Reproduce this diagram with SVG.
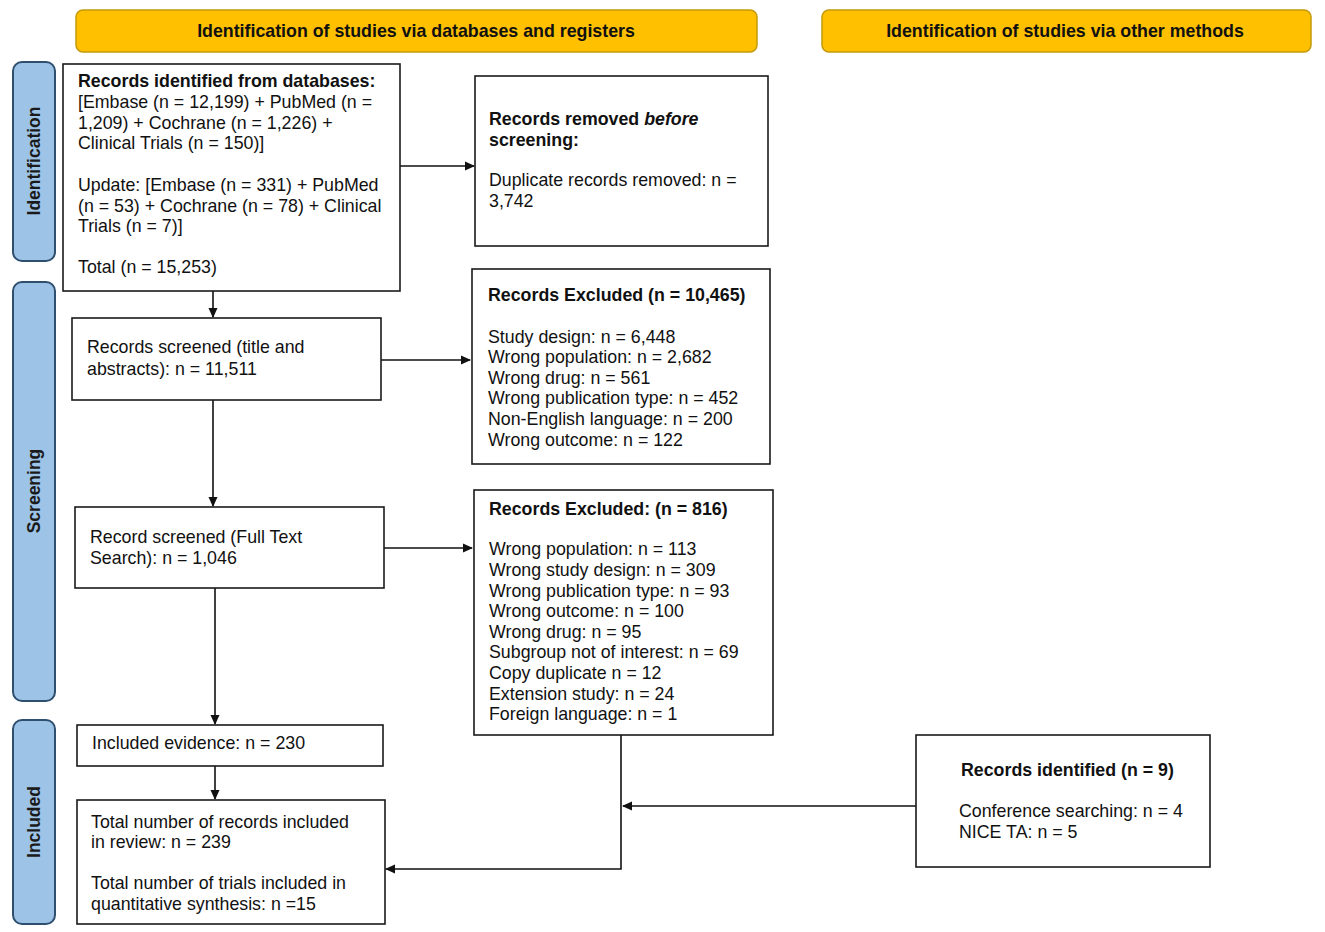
<svg xmlns="http://www.w3.org/2000/svg" width="1325" height="932" viewBox="0 0 1325 932">
<defs>
<style>
text{font-family:"Liberation Sans",Arial,sans-serif;font-size:17.8px;fill:#111}
.b{font-weight:bold}
.hdr{fill:#FFC000;stroke:#C49A0A;stroke-width:1.5}
.side{fill:#9DC3E6;stroke:#2F4F6F;stroke-width:2}
.box{fill:#fff;stroke:#1a1a1a;stroke-width:1.6}
.sl{font-weight:bold;font-size:17.5px;fill:#1a1a1a}
.c{fill:none;stroke:#111;stroke-width:1.6}
</style>
<marker id="ah" markerWidth="10" markerHeight="10" refX="9" refY="5" orient="auto" markerUnits="userSpaceOnUse">
<path d="M0,0.5 L10,5 L0,9.5 Z" fill="#111"/>
</marker>
</defs>
<rect width="1325" height="932" fill="#fff"/>

<g id="header1">
<rect class="hdr" x="76" y="10" width="681" height="42" rx="7"/>
<text class="b" x="416" y="37" text-anchor="middle">Identification of studies via databases and registers</text>
</g>
<g id="header2">
<rect class="hdr" x="822" y="10" width="489" height="42" rx="7"/>
<text class="b" x="1065" y="37" text-anchor="middle">Identification of studies via other methods</text>
</g>

<g id="side-identification">
<rect class="side" x="13" y="62" width="42" height="199" rx="9"/>
<text class="sl" transform="translate(40,161) rotate(-90)" text-anchor="middle">Identification</text>
</g>
<g id="side-screening">
<rect class="side" x="13" y="282" width="42" height="419" rx="9"/>
<text class="sl" transform="translate(40,491) rotate(-90)" text-anchor="middle">Screening</text>
</g>
<g id="side-included">
<rect class="side" x="13" y="720" width="42" height="204" rx="9"/>
<text class="sl" transform="translate(40,822) rotate(-90)" text-anchor="middle">Included</text>
</g>

<g id="connectors">
<line class="c" x1="400" y1="166" x2="474" y2="166" marker-end="url(#ah)"/>
<line class="c" x1="213" y1="291" x2="213" y2="317" marker-end="url(#ah)"/>
<line class="c" x1="381" y1="360" x2="470" y2="360" marker-end="url(#ah)"/>
<line class="c" x1="213" y1="400" x2="213" y2="506" marker-end="url(#ah)"/>
<line class="c" x1="384" y1="548" x2="472" y2="548" marker-end="url(#ah)"/>
<line class="c" x1="215" y1="588" x2="215" y2="724" marker-end="url(#ah)"/>
<line class="c" x1="215" y1="766" x2="215" y2="799" marker-end="url(#ah)"/>
<polyline class="c" points="621,735 621,869 386,869" marker-end="url(#ah)"/>
<line class="c" x1="916" y1="806" x2="623" y2="806" marker-end="url(#ah)"/>
</g>

<g id="records-identified">
<rect class="box" x="63" y="64" width="337" height="227"/>
<text class="b" x="78" y="87">Records identified from databases:</text>
<text x="78" y="108">[Embase (n = 12,199) + PubMed (n =</text>
<text x="78" y="129">1,209) + Cochrane (n = 1,226) +</text>
<text x="78" y="149">Clinical Trials (n = 150)]</text>
<text x="78" y="191">Update: [Embase (n = 331) + PubMed</text>
<text x="78" y="212">(n = 53) + Cochrane (n = 78) + Clinical</text>
<text x="78" y="232">Trials (n = 7)]</text>
<text x="78" y="273">Total (n = 15,253)</text>
</g>

<g id="records-removed">
<rect class="box" x="475" y="76" width="293" height="170"/>
<text class="b" x="489" y="125">Records removed <tspan font-style="italic">before</tspan></text>
<text class="b" x="489" y="146">screening:</text>
<text x="489" y="186">Duplicate records removed: n =</text>
<text x="489" y="207">3,742</text>
</g>

<g id="records-screened">
<rect class="box" x="72" y="318" width="309" height="82"/>
<text x="87" y="353">Records screened (title and</text>
<text x="87" y="375">abstracts): n = 11,511</text>
</g>

<g id="records-excluded-1">
<rect class="box" x="472" y="269" width="298" height="195"/>
<text class="b" x="488" y="301">Records Excluded (n = 10,465)</text>
<text x="488" y="343">Study design: n = 6,448</text>
<text x="488" y="363">Wrong population: n = 2,682</text>
<text x="488" y="384">Wrong drug: n = 561</text>
<text x="488" y="404">Wrong publication type: n = 452</text>
<text x="488" y="425">Non-English language: n = 200</text>
<text x="488" y="446">Wrong outcome: n = 122</text>
</g>

<g id="full-text">
<rect class="box" x="75" y="507" width="309" height="81"/>
<text x="90" y="543">Record screened (Full Text</text>
<text x="90" y="564">Search): n = 1,046</text>
</g>

<g id="records-excluded-2">
<rect class="box" x="474" y="490" width="299" height="245"/>
<text class="b" x="489" y="515">Records Excluded: (n = 816)</text>
<text x="489" y="555">Wrong population: n = 113</text>
<text x="489" y="576">Wrong study design: n = 309</text>
<text x="489" y="597">Wrong publication type: n = 93</text>
<text x="489" y="617">Wrong outcome: n = 100</text>
<text x="489" y="638">Wrong drug: n = 95</text>
<text x="489" y="658">Subgroup not of interest: n = 69</text>
<text x="489" y="679">Copy duplicate n = 12</text>
<text x="489" y="700">Extension study: n = 24</text>
<text x="489" y="720">Foreign language: n = 1</text>
</g>

<g id="included-evidence">
<rect class="box" x="77" y="725" width="306" height="41"/>
<text x="92" y="749">Included evidence: n = 230</text>
</g>

<g id="total-included">
<rect class="box" x="77" y="800" width="308" height="124"/>
<text x="91" y="828">Total number of records included</text>
<text x="91" y="848">in review: n = 239</text>
<text x="91" y="889">Total number of trials included in</text>
<text x="91" y="910">quantitative synthesis: n =15</text>
</g>

<g id="other-records">
<rect class="box" x="916" y="735" width="294" height="132"/>
<text class="b" x="961" y="776">Records identified (n = 9)</text>
<text x="959" y="817">Conference searching: n = 4</text>
<text x="959" y="838">NICE TA: n = 5</text>
</g>
</svg>
